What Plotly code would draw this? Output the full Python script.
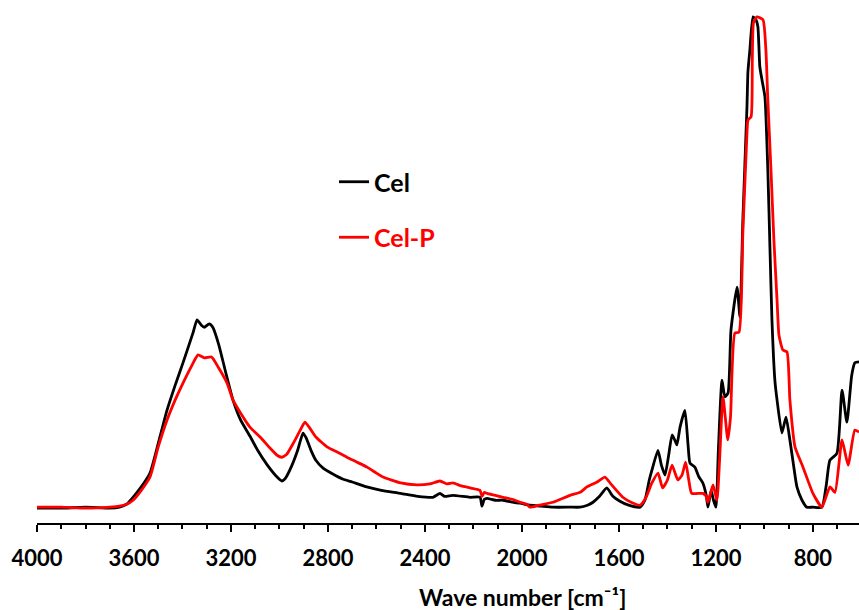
import plotly.graph_objects as go

# Cel (black) spectrum: wavenumber [cm-1] and absorbance (a.u.)
cel_wn = [4000, 3900, 3800, 3700, 3660, 3630, 3604, 3570, 3534, 3500, 3464, 3430, 3398, 3357,
          3340, 3322, 3310, 3290, 3275, 3250, 3222, 3192, 3160, 3122, 3090, 3050, 3010, 2990,
          2975, 2950, 2925, 2903, 2890, 2870, 2850, 2820, 2780, 2740, 2700, 2640, 2580, 2500,
          2430, 2367, 2338, 2320, 2285, 2214, 2173, 2165, 2155, 2144, 2110, 2078, 2040, 2008,
          1967, 1920, 1872, 1800, 1761, 1730, 1707, 1680, 1650, 1625, 1596, 1560, 1513, 1493,
          1475, 1464, 1439, 1425, 1410, 1395, 1381, 1370, 1361, 1348, 1328, 1315, 1307, 1287,
          1270, 1254, 1240, 1233, 1220, 1210, 1200, 1190, 1175, 1163, 1150, 1138, 1113, 1101,
          1089, 1072, 1068, 1060, 1047, 1035, 1027, 1019, 1010, 998, 986, 977, 969, 957, 948,
          928, 911, 895, 880, 866, 845, 825, 800, 763, 745, 730, 701, 680, 660, 640, 627, 610]
cel_abs = [0.4, 0.4, 0.6, 0.4, 0.6, 1.2, 2.6, 4.7, 7.5, 13.5, 20.2, 25.3, 29.8, 35.8,
           38.5, 37.4, 37.0, 37.7, 37.0, 33.4, 27.9, 22.3, 18.2, 15.0, 12.1, 9.1, 6.7, 5.9,
           6.5, 8.9, 12.1, 15.6, 14.6, 12.1, 10.1, 8.5, 7.3, 6.3, 5.7, 4.7, 4.0, 3.4,
           2.8, 2.6, 3.4, 2.8, 3.0, 2.6, 2.6, 0.8, 2.2, 2.4, 2.0, 2.0, 1.6, 1.4,
           1.0, 0.8, 0.6, 0.6, 0.6, 1.0, 1.6, 2.8, 4.5, 2.8, 1.8, 1.0, 0.6, 2.0,
           6.1, 8.1, 12.1, 9.1, 7.1, 11.1, 15.2, 14.2, 13.2, 16.8, 20.2, 13.2, 9.5, 8.7,
           6.7, 5.5, 3.0, 0.6, 4.0, 2.0, 0.6, 12.1, 26.3, 22.9, 23.7, 36.4, 45.1, 39.1,
           58.7, 81.6, 88.7, 93.1, 99.8, 99.2, 97.8, 89.7, 87.0, 83.6, 68.8, 52.6, 38.5, 26.3, 22.3,
           15.6, 18.8, 14.2, 9.1, 4.7, 2.0, 0.6, 0.6, 0.6, 5.1, 10.1, 11.5, 24.3, 17.8, 27.3, 29.8, 30.0]

# Cel-P (red) spectrum
celp_wn = [4000, 3900, 3800, 3700, 3660, 3630, 3604, 3570, 3534, 3500, 3464, 3430, 3398, 3360,
           3336, 3310, 3280, 3250, 3216, 3192, 3160, 3122, 3080, 3040, 3010, 2990, 2970, 2940,
           2910, 2895, 2875, 2850, 2804, 2760, 2722, 2680, 2639, 2600, 2573, 2500, 2433, 2380,
           2338, 2310, 2285, 2250, 2214, 2173, 2165, 2155, 2144, 2110, 2078, 2040, 2008, 1980,
           1967, 1930, 1872, 1802, 1760, 1732, 1690, 1658, 1630, 1584, 1550, 1513, 1490, 1464,
           1439, 1420, 1400, 1381, 1357, 1340, 1325, 1312, 1300, 1254, 1240, 1233, 1212, 1196,
           1185, 1171, 1151, 1140, 1122, 1105, 1089, 1072, 1068, 1055, 1050, 1045, 1031, 1006,
           994, 986, 973, 961, 948, 940, 924, 907, 895, 874, 841, 800, 763, 730, 709, 680,
           655, 627, 610]
celp_abs = [0.6, 0.6, 0.4, 0.6, 0.8, 1.2, 2.0, 4.0, 6.7, 12.8, 18.2, 22.3, 25.7, 29.4,
            31.4, 30.8, 31.0, 28.7, 25.7, 22.3, 19.6, 16.8, 14.8, 12.6, 11.1, 10.7, 11.3, 13.8,
            16.6, 17.8, 16.6, 14.8, 12.8, 11.7, 10.7, 9.7, 8.7, 7.5, 6.7, 5.5, 5.1, 5.3,
            5.9, 5.3, 5.5, 4.9, 4.5, 4.0, 2.8, 3.6, 3.4, 3.0, 2.6, 2.2, 1.6, 1.2,
            0.6, 1.0, 1.6, 3.0, 3.6, 4.7, 5.7, 6.7, 5.1, 2.6, 1.6, 1.0, 2.4, 5.5,
            7.5, 4.5, 6.1, 9.1, 6.1, 7.1, 9.7, 6.1, 3.4, 3.4, 2.8, 1.6, 5.1, 2.0,
            10.1, 22.9, 14.2, 18.8, 35.8, 36.0, 56.1, 76.3, 78.9, 79.6, 91.1, 98.6, 99.8, 99.2,
            93.1, 83.0, 68.8, 54.7, 42.5, 35.4, 32.4, 32.0, 22.3, 12.8, 8.7, 3.4, 0.6, 4.7, 3.6, 14.2,
            9.1, 16.2, 15.8]

tick_vals = [4000, 3600, 3200, 2800, 2400, 2000, 1600, 1200, 800]
tick_text = [str(v) for v in tick_vals]

fig = go.Figure()
fig.add_trace(go.Scatter(x=cel_wn, y=cel_abs, mode="lines", name="Cel",
                         legendgroup="a",
                         line=dict(color="#000000", width=2.8, shape="spline", smoothing=0.5)))
fig.add_trace(go.Scatter(x=celp_wn, y=celp_abs, mode="lines",
                         name="<span style='color:#ff0000'>Cel-P</span>",
                         legendgroup="b",
                         line=dict(color="#ff0000", width=2.8, shape="spline", smoothing=0.5)))

fig.update_layout(
    width=859, height=610,
    margin=dict(l=37, r=0, t=0, b=87),
    plot_bgcolor="white", paper_bgcolor="white",
    font=dict(family="Lato", color="#000000"),
    showlegend=True,
    legend=dict(x=(334 - 37) / 822, y=(523 - 159) / 523, xanchor="left", yanchor="top",
                font=dict(size=25, family="Lato", weight="bold", color="#000000"),
                bgcolor="rgba(0,0,0,0)", tracegroupgap=20, itemwidth=30),
    xaxis=dict(range=[4000, 610], tickvals=tick_vals, ticktext=tick_text,
               showline=True, linecolor="#000000", linewidth=2,
               ticks="outside", ticklen=7, tickwidth=2, tickcolor="#000000",
               minor=dict(dtick=100, ticks="outside", ticklen=4, tickwidth=2, tickcolor="#000000"),
               showgrid=False, zeroline=False, ticklabelstandoff=8,
               tickfont=dict(size=22, family="Lato", weight="bold", color="#000000")),
    yaxis=dict(range=[-2.6, 103.2], visible=False, showgrid=False, zeroline=False),
    annotations=[dict(text="Wave number [cm⁻¹]", xref="paper", yref="paper",
                      x=(522 - 37) / 822, y=(523 - 597) / 523, xanchor="center", yanchor="middle",
                      showarrow=False,
                      font=dict(size=23, family="Lato", weight="bold", color="#000000"))],
)

fig.write_html("out.html")
